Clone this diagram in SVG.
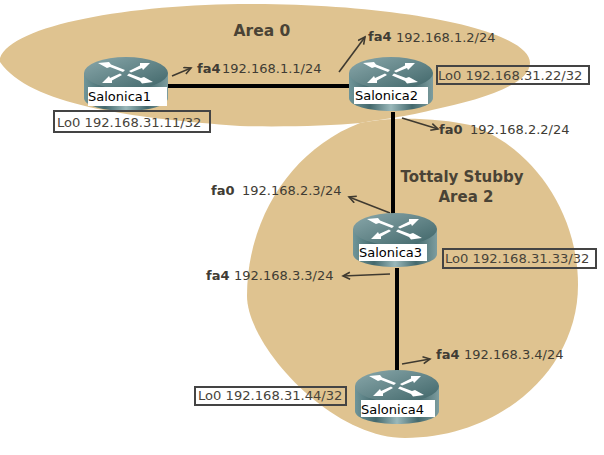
<svg xmlns="http://www.w3.org/2000/svg" width="604" height="455" viewBox="0 0 604 455">
<style>
.area{fill:#dfc390}
.link{stroke:#000;stroke-width:4;fill:none}
.arrow{stroke:#3f3a30;stroke-width:1.6;fill:none;marker-end:url(#arr)}
text{font-family:"DejaVu Sans",Verdana,sans-serif;fill:#403c34;font-size:13px}
.fa{font-weight:bold}
.name{fill:#000}
.lo{font-size:13.1px;fill:#47433a}
.title{font-weight:bold;font-size:15px;fill:#4a4336;text-anchor:middle}
.box{fill:none;stroke:#444;stroke-width:2}
.lab{fill:#fff}
</style>
<defs>
<marker id="arr" markerWidth="10" markerHeight="10" refX="8" refY="4" orient="auto" markerUnits="userSpaceOnUse"><path d="M1 0.5L8 4L1 7.5" fill="none" stroke="#3f3a30" stroke-width="1.6"/></marker>
<linearGradient id="side" x1="0" x2="1" y1="0" y2="0"><stop offset="0" stop-color="#6f9599"/><stop offset=".25" stop-color="#44696d"/><stop offset=".5" stop-color="#9ab8ba"/><stop offset=".75" stop-color="#44696d"/><stop offset="1" stop-color="#7d9d9f"/></linearGradient>
<linearGradient id="top" x1="0" x2="1" y1="0" y2="1"><stop offset="0" stop-color="#8aa8ab"/><stop offset="1" stop-color="#3f6568"/></linearGradient>
<g id="router">
<path d="M-42 0V25C-42 33-22 38 0 38S42 33 42 25V0Z" fill="url(#side)"/>
<ellipse rx="42" ry="16" fill="url(#top)"/>
<g fill="#fff">
<path d="M-28 -10L-17 -11L-15 -8.5L-1 -3L-3 -1L-16 -6L-19 -5Z"/>
<path d="M27 9L16 10.5L14 8L1 2.5L3 0.5L15 5L18 4Z"/>
<path d="M24 -10L14 -10L14 -7.5L3 -2L5 -0.5L16 -5L17 -3Z"/>
<path d="M-24 10L-14 10L-14 7.5L-4 2L-6 0.5L-16 5L-17 3Z"/>
</g>
</g>
</defs>
<g id="areas">
<path class="area" d="M0 58C12 25 130 4 250 4C400 4 530 30 530 63C530 85 480 100 432 110C400 118 375 120 360 123C330 126 280 127 240 126C130 118 30 105 0 62Z"/>
<path class="area" d="M360 123C390 116 440 118 470 125C530 145 578 210 578 285C578 370 500 438 405 438C330 438 247 345 247 296C247 220 290 150 360 123Z"/>
</g>
<g id="connectors">
<path class="link" d="M166 86H352"/>
<path class="link" d="M393 112V215"/>
<path class="link" d="M397 268V372"/>
<path class="arrow" d="M172 76L191 68"/>
<path class="arrow" d="M339 72L365 37"/>
<path class="arrow" d="M402 118L438 129"/>
<path class="arrow" d="M390 213L349 197"/>
<path class="arrow" d="M390 274L343 276"/>
<path class="arrow" d="M402 364L430 359"/>
</g>
<g id="salonica1"><use href="#router" x="126" y="73"/><rect class="lab" x="88" y="87" width="79" height="19"/><text class="name" x="88" y="101">Salonica1</text></g>
<g id="salonica2"><use href="#router" x="391" y="73"/><rect class="lab" x="354" y="87" width="74" height="17"/><text class="name" x="355" y="100">Salonica2</text></g>
<g id="salonica3"><use href="#router" x="395" y="229"/><rect class="lab" x="359" y="244" width="68" height="17"/><text class="name" x="359" y="257">Salonica3</text></g>
<g id="salonica4"><use href="#router" x="397" y="386"/><rect class="lab" x="361" y="400" width="74" height="17"/><text class="name" x="361" y="414">Salonica4</text></g>
<g id="labels">
<text class="title" x="262" y="36" style="font-size:15.5px">Area 0</text>
<text class="title" x="462" y="182">Tottaly Stubby</text>
<text class="title" x="466" y="202">Area 2</text>
<text class="fa" x="197" y="73">fa4</text><text x="222" y="73">192.168.1.1/24</text>
<text class="fa" x="368" y="41">fa4</text><text x="396" y="42">192.168.1.2/24</text>
<text class="fa" x="439" y="134">fa0</text><text x="470" y="134">192.168.2.2/24</text>
<text class="fa" x="211" y="195">fa0</text><text x="242" y="195">192.168.2.3/24</text>
<text class="fa" x="206" y="280">fa4</text><text x="234" y="280">192.168.3.3/24</text>
<text class="fa" x="436" y="359">fa4</text><text x="464" y="359">192.168.3.4/24</text>
</g>
<g id="loopbacks">
<rect class="box" x="54" y="111" width="156" height="21"/><text class="lo" x="57" y="127">Lo0 192.168.31.11/32</text>
<rect class="box" x="437" y="66" width="152" height="18"/><text class="lo" x="438" y="80">Lo0 192.168.31.22/32</text>
<rect class="box" x="443" y="249" width="153" height="19"/><text class="lo" x="445" y="263">Lo0 192.168.31.33/32</text>
<rect class="box" x="195" y="387" width="151" height="18"/><text class="lo" x="198" y="400">Lo0 192.168.31.44/32</text>
</g>
</svg>
